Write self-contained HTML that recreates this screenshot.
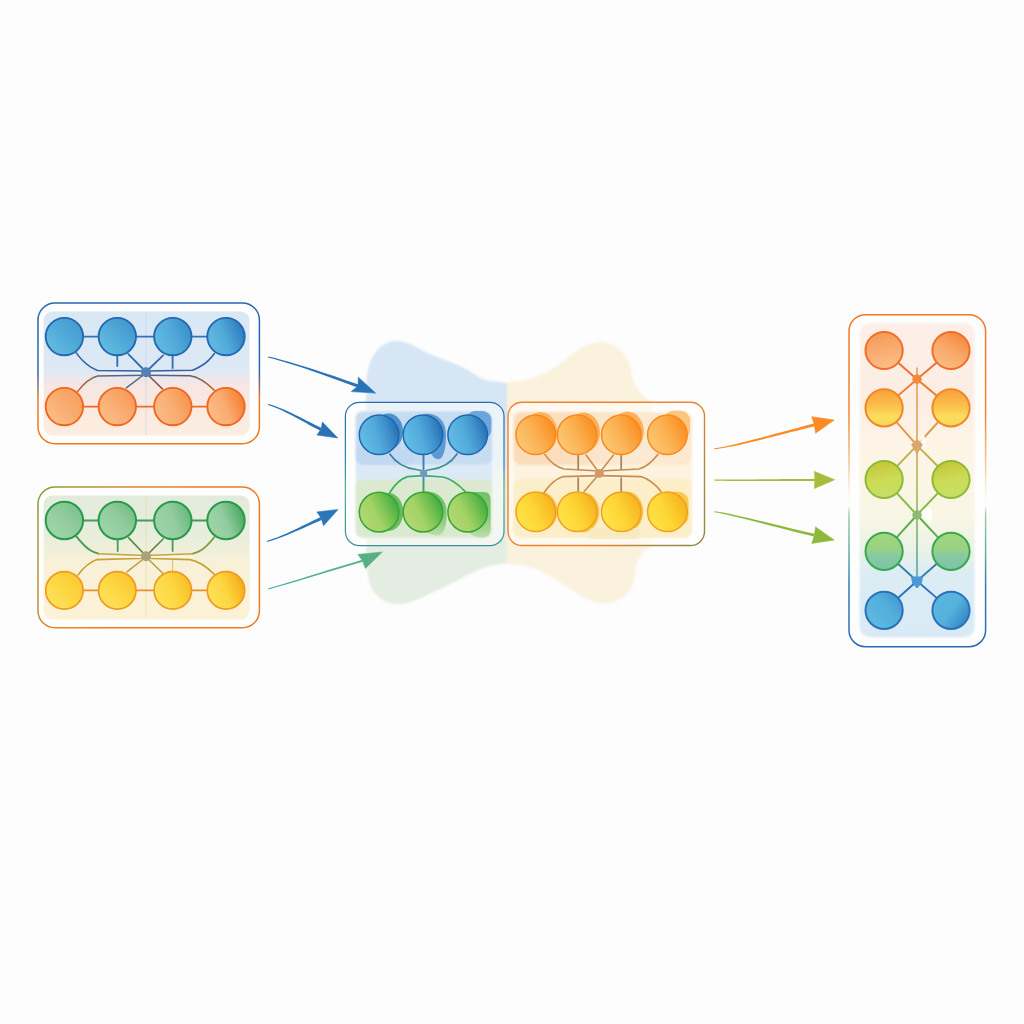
<!DOCTYPE html>
<html><head><meta charset="utf-8"><title>Diagram</title>
<style>html,body{margin:0;padding:0;background:#fdfdfd;font-family:"Liberation Sans",sans-serif;}svg{display:block}</style>
</head><body>
<svg width="1024" height="1024" viewBox="0 0 1024 1024">
<defs><linearGradient id="gBlue" x1="0.1" y1="0.9" x2="0.95" y2="0.15"><stop offset="0" stop-color="#62bde0"/><stop offset="0.55" stop-color="#4ea9d8"/><stop offset="1" stop-color="#2f7fc0"/></linearGradient><linearGradient id="gOr" x1="0.1" y1="0.9" x2="0.95" y2="0.15"><stop offset="0" stop-color="#fbbd85"/><stop offset="0.55" stop-color="#f9a866"/><stop offset="1" stop-color="#f68535"/></linearGradient><linearGradient id="gGrn" x1="0.1" y1="0.9" x2="0.95" y2="0.15"><stop offset="0" stop-color="#9fd6a6"/><stop offset="0.55" stop-color="#8fcb9b"/><stop offset="1" stop-color="#4fa964"/></linearGradient><linearGradient id="gYel" x1="0.1" y1="0.9" x2="0.95" y2="0.15"><stop offset="0" stop-color="#fee25a"/><stop offset="0.55" stop-color="#fdd53f"/><stop offset="1" stop-color="#f5ae1c"/></linearGradient><linearGradient id="gBlue0" x1="0.15" y1="0.9" x2="0.9" y2="0.2"><stop offset="0" stop-color="#62bde0"/><stop offset="0.55" stop-color="#50a9d8"/><stop offset="1" stop-color="#469dd1"/></linearGradient><linearGradient id="gBlue1" x1="0.15" y1="0.9" x2="0.9" y2="0.2"><stop offset="0" stop-color="#62bde0"/><stop offset="0.55" stop-color="#50a9d8"/><stop offset="1" stop-color="#4398ce"/></linearGradient><linearGradient id="gBlue2" x1="0.0" y1="0.75" x2="1.0" y2="0.35"><stop offset="0" stop-color="#62bde0"/><stop offset="0.55" stop-color="#50a9d8"/><stop offset="1" stop-color="#3b8ec9"/></linearGradient><linearGradient id="gBlue3" x1="0.0" y1="0.75" x2="1.0" y2="0.35"><stop offset="0" stop-color="#62bde0"/><stop offset="0.5" stop-color="#50a9d8"/><stop offset="1" stop-color="#2c7abd"/></linearGradient><linearGradient id="gOr0" x1="0.15" y1="0.9" x2="0.9" y2="0.2"><stop offset="0" stop-color="#fbbd88"/><stop offset="0.55" stop-color="#f9ac70"/><stop offset="1" stop-color="#f8a05f"/></linearGradient><linearGradient id="gOr1" x1="0.15" y1="0.9" x2="0.9" y2="0.2"><stop offset="0" stop-color="#fbbd88"/><stop offset="0.55" stop-color="#f9ac70"/><stop offset="1" stop-color="#f89b58"/></linearGradient><linearGradient id="gOr2" x1="0.0" y1="0.75" x2="1.0" y2="0.35"><stop offset="0" stop-color="#fbbd88"/><stop offset="0.55" stop-color="#f9ac70"/><stop offset="1" stop-color="#f7924b"/></linearGradient><linearGradient id="gOr3" x1="0.0" y1="0.75" x2="1.0" y2="0.35"><stop offset="0" stop-color="#fbbd88"/><stop offset="0.5" stop-color="#f9ac70"/><stop offset="1" stop-color="#f57e2f"/></linearGradient><linearGradient id="gGrn0" x1="0.15" y1="0.9" x2="0.9" y2="0.2"><stop offset="0" stop-color="#9fd6a8"/><stop offset="0.55" stop-color="#92cc9e"/><stop offset="1" stop-color="#7ec28e"/></linearGradient><linearGradient id="gGrn1" x1="0.15" y1="0.9" x2="0.9" y2="0.2"><stop offset="0" stop-color="#9fd6a8"/><stop offset="0.55" stop-color="#92cc9e"/><stop offset="1" stop-color="#77be87"/></linearGradient><linearGradient id="gGrn2" x1="0.0" y1="0.75" x2="1.0" y2="0.35"><stop offset="0" stop-color="#9fd6a8"/><stop offset="0.55" stop-color="#92cc9e"/><stop offset="1" stop-color="#67b67a"/></linearGradient><linearGradient id="gGrn3" x1="0.0" y1="0.75" x2="1.0" y2="0.35"><stop offset="0" stop-color="#9fd6a8"/><stop offset="0.5" stop-color="#92cc9e"/><stop offset="1" stop-color="#48a65f"/></linearGradient><linearGradient id="gYel0" x1="0.15" y1="0.9" x2="0.9" y2="0.2"><stop offset="0" stop-color="#fee25c"/><stop offset="0.55" stop-color="#fdd640"/><stop offset="1" stop-color="#fbca36"/></linearGradient><linearGradient id="gYel1" x1="0.15" y1="0.9" x2="0.9" y2="0.2"><stop offset="0" stop-color="#fee25c"/><stop offset="0.55" stop-color="#fdd640"/><stop offset="1" stop-color="#fac631"/></linearGradient><linearGradient id="gYel2" x1="0.0" y1="0.75" x2="1.0" y2="0.35"><stop offset="0" stop-color="#fee25c"/><stop offset="0.55" stop-color="#fdd640"/><stop offset="1" stop-color="#f8bd29"/></linearGradient><linearGradient id="gYel3" x1="0.0" y1="0.75" x2="1.0" y2="0.35"><stop offset="0" stop-color="#fee25c"/><stop offset="0.5" stop-color="#fdd640"/><stop offset="1" stop-color="#f4aa18"/></linearGradient><linearGradient id="cBlue" x1="0.0" y1="0.68" x2="1" y2="0.36"><stop offset="0" stop-color="#63bfe6"/><stop offset="0.45" stop-color="#52aadb"/><stop offset="0.72" stop-color="#3f90cc"/><stop offset="1" stop-color="#236eb2"/></linearGradient><linearGradient id="cGrn" x1="0.0" y1="0.8" x2="1" y2="0.3"><stop offset="0" stop-color="#b6da76"/><stop offset="0.45" stop-color="#a2d264"/><stop offset="0.72" stop-color="#72c050"/><stop offset="1" stop-color="#3daa40"/></linearGradient><linearGradient id="cOr" x1="0.0" y1="0.8" x2="1" y2="0.3"><stop offset="0" stop-color="#fdcb78"/><stop offset="0.5" stop-color="#fbb253"/><stop offset="1" stop-color="#fb8c1e"/></linearGradient><linearGradient id="cYel" x1="0.0" y1="0.8" x2="1" y2="0.3"><stop offset="0" stop-color="#ffe54c"/><stop offset="0.5" stop-color="#fdd634"/><stop offset="1" stop-color="#f6b01e"/></linearGradient><linearGradient id="r1" x1="0.2" y1="1" x2="0.8" y2="0"><stop offset="0" stop-color="#f9c088"/><stop offset="0.5" stop-color="#f8a868"/><stop offset="1" stop-color="#f5853a"/></linearGradient><linearGradient id="r2" x1="0.5" y1="0" x2="0.5" y2="1"><stop offset="0" stop-color="#f9a03c"/><stop offset="0.45" stop-color="#fbc04c"/><stop offset="0.75" stop-color="#fbdf5c"/><stop offset="1" stop-color="#f8d458"/></linearGradient><linearGradient id="r3" x1="0.4" y1="0" x2="0.6" y2="1"><stop offset="0" stop-color="#c6c436"/><stop offset="0.5" stop-color="#ccdc54"/><stop offset="1" stop-color="#c4e068"/></linearGradient><linearGradient id="r4" x1="0.5" y1="0" x2="0.5" y2="1"><stop offset="0" stop-color="#a4d67a"/><stop offset="0.5" stop-color="#96d088"/><stop offset="0.58" stop-color="#88caa0"/><stop offset="1" stop-color="#7cc4a8"/></linearGradient><linearGradient id="r5" x1="0.1" y1="0.9" x2="0.95" y2="0.15"><stop offset="0" stop-color="#60bce2"/><stop offset="0.6" stop-color="#52aedb"/><stop offset="1" stop-color="#4298d0"/></linearGradient><linearGradient id="r5b" x1="0.1" y1="0.2" x2="0.95" y2="0.8"><stop offset="0" stop-color="#5ab6de"/><stop offset="0.5" stop-color="#56b2dc"/><stop offset="1" stop-color="#3284c4"/></linearGradient><linearGradient id="r1a" x1="0.4" y1="0" x2="0.6" y2="1"><stop offset="0" stop-color="#f79a58"/><stop offset="0.5" stop-color="#f9ac70"/><stop offset="1" stop-color="#fbbf8c"/></linearGradient><linearGradient id="fillTL" x1="0" y1="0" x2="0" y2="1"><stop offset="0" stop-color="#d8e8f5"/><stop offset="0.47" stop-color="#dde9f5"/><stop offset="0.6" stop-color="#f7e6e2"/><stop offset="1" stop-color="#fdeee0"/></linearGradient><linearGradient id="fillBL" x1="0" y1="0" x2="0" y2="1"><stop offset="0" stop-color="#e2ebdc"/><stop offset="0.35" stop-color="#e9eedc"/><stop offset="0.55" stop-color="#f8f1d8"/><stop offset="1" stop-color="#fcf2d6"/></linearGradient><linearGradient id="fillR" x1="0" y1="0" x2="0" y2="1"><stop offset="0" stop-color="#fdefe7"/><stop offset="0.25" stop-color="#fdeee4"/><stop offset="0.4" stop-color="#fdf5e6"/><stop offset="0.62" stop-color="#f8f6e4"/><stop offset="0.72" stop-color="#eaf2e6"/><stop offset="0.8" stop-color="#dcecf5"/><stop offset="1" stop-color="#d9eaf6"/></linearGradient><linearGradient id="oTL" x1="0" y1="303" x2="0" y2="444" gradientUnits="userSpaceOnUse"><stop offset="0" stop-color="#2567b0"/><stop offset="0.5" stop-color="#2a69ac"/><stop offset="0.6" stop-color="#a06a50"/><stop offset="0.68" stop-color="#e77a2c"/><stop offset="1" stop-color="#ea7a22"/></linearGradient><linearGradient id="oBL" x1="38" y1="487" x2="150" y2="560" gradientUnits="userSpaceOnUse"><stop offset="0" stop-color="#7fa038"/><stop offset="0.35" stop-color="#b89438"/><stop offset="0.8" stop-color="#ec8226"/><stop offset="1" stop-color="#ee7a22"/></linearGradient><linearGradient id="oCL" x1="0" y1="402" x2="0" y2="546" gradientUnits="userSpaceOnUse"><stop offset="0" stop-color="#2a6cae"/><stop offset="0.45" stop-color="#3a86b4"/><stop offset="0.6" stop-color="#58b094"/><stop offset="1" stop-color="#3f8f96"/></linearGradient><linearGradient id="oCR" x1="508" y1="402" x2="705" y2="546" gradientUnits="userSpaceOnUse"><stop offset="0" stop-color="#f5802a"/><stop offset="0.6" stop-color="#f3822a"/><stop offset="0.8" stop-color="#a88c40"/><stop offset="1" stop-color="#8c8a44"/></linearGradient><linearGradient id="oR" x1="0" y1="314" x2="0" y2="647" gradientUnits="userSpaceOnUse"><stop offset="0" stop-color="#f4762a"/><stop offset="0.3" stop-color="#f4842e"/><stop offset="0.45" stop-color="#f3c890"/><stop offset="0.54" stop-color="#fbf6ea"/><stop offset="0.575" stop-color="#fdfdf8"/><stop offset="0.6" stop-color="#9ed0a4"/><stop offset="0.72" stop-color="#5cae9c"/><stop offset="0.82" stop-color="#2f78b4"/><stop offset="1" stop-color="#2a6db4"/></linearGradient><linearGradient id="lnTLlow" x1="78" y1="0" x2="146" y2="0" gradientUnits="userSpaceOnUse"><stop offset="0" stop-color="#b86a30"/><stop offset="0.35" stop-color="#6a6070"/><stop offset="1" stop-color="#4a6c98"/></linearGradient><linearGradient id="lnTLlowR" x1="214" y1="0" x2="146" y2="0" gradientUnits="userSpaceOnUse"><stop offset="0" stop-color="#b86a30"/><stop offset="0.35" stop-color="#6a5a60"/><stop offset="1" stop-color="#4a6c98"/></linearGradient><linearGradient id="lnCLup" x1="0" y1="454" x2="0" y2="472" gradientUnits="userSpaceOnUse"><stop offset="0" stop-color="#3a78b0"/><stop offset="1" stop-color="#3c9c78"/></linearGradient><linearGradient id="lnCLv" x1="0" y1="454" x2="0" y2="492" gradientUnits="userSpaceOnUse"><stop offset="0" stop-color="#3a78b0"/><stop offset="0.5" stop-color="#4a88a8"/><stop offset="1" stop-color="#3aa858"/></linearGradient><linearGradient id="lnRv" x1="0" y1="370" x2="0" y2="580" gradientUnits="userSpaceOnUse"><stop offset="0" stop-color="#e89a48"/><stop offset="0.35" stop-color="#d4a04c"/><stop offset="0.55" stop-color="#a8b050"/><stop offset="0.75" stop-color="#70b468"/><stop offset="1" stop-color="#48a0a8"/></linearGradient><linearGradient id="arr4" x1="268" y1="0" x2="382" y2="0" gradientUnits="userSpaceOnUse"><stop offset="0" stop-color="#3aa4a8"/><stop offset="0.6" stop-color="#52b488"/><stop offset="1" stop-color="#5aae84"/></linearGradient><linearGradient id="bandOr" x1="0" y1="0" x2="1" y2="0"><stop offset="0" stop-color="#fbdcb8"/><stop offset="0.3" stop-color="#fbdfc0"/><stop offset="0.6" stop-color="#fce9d2"/><stop offset="1" stop-color="#fde9d0"/></linearGradient><linearGradient id="shG" x1="0" y1="0" x2="0" y2="1"><stop offset="0" stop-color="#5cb850"/><stop offset="0.55" stop-color="#74c060"/><stop offset="1" stop-color="#b6dca2"/></linearGradient><filter id="b1" x="-10%" y="-10%" width="120%" height="120%"><feGaussianBlur stdDeviation="0.8"/></filter><filter id="b2" x="-10%" y="-10%" width="120%" height="120%"><feGaussianBlur stdDeviation="1.6"/></filter><filter id="b05" x="-10%" y="-10%" width="120%" height="120%"><feGaussianBlur stdDeviation="0.45"/></filter></defs>
<rect width="1024" height="1024" fill="#fdfdfd"/>
<g filter="url(#b1)">
<path d="M503 383 C518 381 528 380 536 377 C550 372 560 364 570 356 C580 348 590 341 602 342 C616 343 626 352 630 366 C633 378 634 386 640 392 C644 397 648 400 653 402.4 L653 546 C647 548 642 553 638 560 C634 568 636 580 630 590 C624 600 612 604 601 603 C588 602 578 594 566 586 C552 577 538 568 522 565 C514 564 508 564 503 564 Z" fill="#fbf2de"/>
<path d="M366 394 C366 380 367 368 372 358 C378 346 388 340 398 341 C410 342 420 350 432 355 C446 361 458 364 468 370 C476 375 482 380 490 381 C496 382 502 382 507 383 L507 470 L366 470 Z" fill="#d6e6f4"/>
<path d="M366 470 L507 470 L507 563 C498 564 488 566 478 570 C464 576 452 584 438 590 C424 596 412 604 398 604 C384 604 374 596 370 584 C367 574 366 562 366 548 Z" fill="#e4ede2"/>
</g>
<rect x="38" y="303" width="221.4" height="140.8" rx="17" ry="17" fill="#fefefe" stroke="url(#oTL)" stroke-width="1.5"/>
<rect x="43.6" y="311.4" width="206" height="124.2" rx="9" ry="9" fill="url(#fillTL)" filter="url(#b05)"/>
<line x1="146" y1="312" x2="146" y2="435" stroke="#c9d6e6" stroke-width="0.9" opacity="0.8"/>
<path d="M64.4 336.6 H226.0" fill="none" stroke="#2f74b8" stroke-width="1.7" stroke-linecap="round" stroke-linejoin="round" />
<path d="M64.4 406.6 H226.0" fill="none" stroke="#f06c24" stroke-width="1.7" stroke-linecap="round" stroke-linejoin="round" />
<path d="M76.3 352.9 C81 359.6 86 364 90 366.6 C93 368.4 95.4 369.6 97.5 370.5 L146 371" fill="none" stroke="#2f62a8" stroke-width="1.6" stroke-linecap="round" stroke-linejoin="round" />
<path d="M214.4 353.5 C210 359.6 205.6 363.6 201 366 C197.6 368 195 369.4 192.5 370.3 L146 371" fill="none" stroke="#2f62a8" stroke-width="1.6" stroke-linecap="round" stroke-linejoin="round" />
<path d="M117.3 356 V366" fill="none" stroke="#2f6db2" stroke-width="1.8" stroke-linecap="round" stroke-linejoin="round" />
<path d="M172.6 356 V368" fill="none" stroke="#2f6db2" stroke-width="1.8" stroke-linecap="round" stroke-linejoin="round" />
<path d="M128.1 353.8 L146 372" fill="none" stroke="#2f6db2" stroke-width="1.8" stroke-linecap="round" stroke-linejoin="round" />
<path d="M163.1 355.4 L146 372" fill="none" stroke="#2f6db2" stroke-width="1.8" stroke-linecap="round" stroke-linejoin="round" />
<path d="M77.5 391.6 C84 383 90 378 97.5 376 L146 375.2" fill="none" stroke="url(#lnTLlow)" stroke-width="1.5" stroke-linecap="round" stroke-linejoin="round" />
<path d="M214.4 390.4 C206 382 198 377 190 375.8 L146 375.2" fill="none" stroke="url(#lnTLlowR)" stroke-width="1.5" stroke-linecap="round" stroke-linejoin="round" />
<path d="M126.3 387.9 L146 373" fill="none" stroke="#5a6a78" stroke-width="1.5" stroke-linecap="round" stroke-linejoin="round" />
<path d="M162.5 389 L146 373" fill="none" stroke="#7a5450" stroke-width="1.6" stroke-linecap="round" stroke-linejoin="round" />
<path d="M99 373.2 H193" stroke="#f2f4fa" stroke-width="1.6" opacity="0.8"/>
<circle cx="146" cy="372.3" r="5" fill="#5480b8"/>
<circle cx="64.4" cy="336.6" r="18.7" fill="url(#gBlue0)" stroke="#2467b2" stroke-width="1.9"/>
<circle cx="64.4" cy="406.6" r="18.7" fill="url(#gOr0)" stroke="#f2661f" stroke-width="1.9"/>
<circle cx="117.3" cy="336.6" r="18.7" fill="url(#gBlue1)" stroke="#2467b2" stroke-width="1.9"/>
<circle cx="117.3" cy="406.6" r="18.7" fill="url(#gOr1)" stroke="#f2661f" stroke-width="1.9"/>
<circle cx="172.8" cy="336.6" r="18.7" fill="url(#gBlue2)" stroke="#2467b2" stroke-width="1.9"/>
<circle cx="172.8" cy="406.6" r="18.7" fill="url(#gOr2)" stroke="#f2661f" stroke-width="1.9"/>
<circle cx="226.0" cy="336.6" r="18.7" fill="url(#gBlue3)" stroke="#2467b2" stroke-width="1.9"/>
<circle cx="226.0" cy="406.6" r="18.7" fill="url(#gOr3)" stroke="#f2661f" stroke-width="1.9"/>
<rect x="38" y="487" width="221.4" height="140.8" rx="17" ry="17" fill="#fefefe" stroke="url(#oBL)" stroke-width="1.5"/>
<rect x="43.6" y="495.4" width="206" height="124.2" rx="9" ry="9" fill="url(#fillBL)" filter="url(#b05)"/>
<line x1="146" y1="496" x2="146" y2="618" stroke="#e8dfb0" stroke-width="0.9" opacity="0.9"/>
<path d="M64.4 520.5 H226.0" fill="none" stroke="#3f9e5c" stroke-width="1.8" stroke-linecap="round" stroke-linejoin="round" />
<path d="M64.4 590.4 H226.0" fill="none" stroke="#ea902c" stroke-width="1.7" stroke-linecap="round" stroke-linejoin="round" />
<path d="M76.5 536.6 C82 543.4 87 548.6 91.6 551 C94.6 552.6 96.6 553 98.5 553.7" fill="none" stroke="#4a9a50" stroke-width="1.9" stroke-linecap="round" stroke-linejoin="round" />
<path d="M214.4 537 C209 544 204 549 199 551.4 C196 552.8 194.4 553.2 192.5 553.7" fill="none" stroke="#7aa040" stroke-width="1.9" stroke-linecap="round" stroke-linejoin="round" />
<path d="M98.5 553.8 L146 555.4 L192.5 553.8" fill="none" stroke="#c8a24a" stroke-width="1.5" stroke-linecap="round" stroke-linejoin="round" />
<path d="M117.7 540 V551" fill="none" stroke="#4a9a50" stroke-width="1.8" stroke-linecap="round" stroke-linejoin="round" />
<path d="M172.6 540 V551" fill="none" stroke="#4a9a50" stroke-width="1.8" stroke-linecap="round" stroke-linejoin="round" />
<path d="M128.7 537.8 L146 556" fill="none" stroke="#5a8a48" stroke-width="1.7" stroke-linecap="round" stroke-linejoin="round" />
<path d="M163.1 539 L146 556" fill="none" stroke="#5a8a48" stroke-width="1.7" stroke-linecap="round" stroke-linejoin="round" />
<path d="M78 575 C84 567 90 562 97 559.6 L146 558.2" fill="none" stroke="#c9a236" stroke-width="1.6" stroke-linecap="round" stroke-linejoin="round" />
<path d="M214.4 574.4 C206 566 198 561 190 559.6 L146 558.2" fill="none" stroke="#c9a236" stroke-width="1.6" stroke-linecap="round" stroke-linejoin="round" />
<path d="M126.9 571.9 L146 557" fill="none" stroke="#b8a040" stroke-width="1.5" stroke-linecap="round" stroke-linejoin="round" />
<path d="M172.6 560 V571" fill="none" stroke="#d8c070" stroke-width="1.0" stroke-linecap="round" stroke-linejoin="round" />
<path d="M162.5 573 L146 557" fill="none" stroke="#b8a040" stroke-width="1.5" stroke-linecap="round" stroke-linejoin="round" />
<path d="M99 557 H193" stroke="#fffbe8" stroke-width="1.6" opacity="0.8"/>
<circle cx="146" cy="556.3" r="5" fill="#a8a478"/>
<circle cx="64.4" cy="520.5" r="18.7" fill="url(#gGrn0)" stroke="#279a4c" stroke-width="2.0"/>
<circle cx="64.4" cy="590.4" r="18.7" fill="url(#gYel0)" stroke="#f09a1e" stroke-width="1.7"/>
<circle cx="117.3" cy="520.5" r="18.7" fill="url(#gGrn1)" stroke="#279a4c" stroke-width="2.0"/>
<circle cx="117.3" cy="590.4" r="18.7" fill="url(#gYel1)" stroke="#f09a1e" stroke-width="1.7"/>
<circle cx="172.8" cy="520.5" r="18.7" fill="url(#gGrn2)" stroke="#279a4c" stroke-width="2.0"/>
<circle cx="172.8" cy="590.4" r="18.7" fill="url(#gYel2)" stroke="#f09a1e" stroke-width="1.7"/>
<circle cx="226.0" cy="520.5" r="18.7" fill="url(#gGrn3)" stroke="#279a4c" stroke-width="2.0"/>
<circle cx="226.0" cy="590.4" r="18.7" fill="url(#gYel3)" stroke="#f09a1e" stroke-width="1.7"/>
<rect x="345.4" y="402.3" width="158.6" height="143.3" rx="14" ry="14" fill="#ffffff" fill-opacity="0.55" stroke="url(#oCL)" stroke-width="1.25"/>
<g filter="url(#b1)">
<rect x="355.6" y="411.5" width="136.4" height="126" rx="7" fill="#dceaf7"/>
<rect x="355.6" y="411.5" width="136.4" height="53" rx="7" fill="#c5dcf1"/>
<rect x="355.6" y="479.5" width="136.4" height="58" rx="7" fill="#dbe9cf"/>
</g>
<g filter="url(#b05)">
<rect x="356" y="447" width="58" height="18" rx="7" fill="#b9d3ed" opacity="0.4"/>
<ellipse cx="388.6" cy="431.6" rx="14.4" ry="18" fill="#3d88c8" opacity="0.9"/>
<path d="M424 414 C436 412 446 420 446 434 C446 444 445 452 442 457 C439 461 434 459 432 455 C428 448 424 440 424 430 Z" fill="#4a8ecc" opacity="0.85"/>
<rect x="466" y="411" width="25.4" height="28" rx="9" fill="#5c9cd8" opacity="0.85"/>
<ellipse cx="388.6" cy="512" rx="14.6" ry="19" fill="#5cb850" opacity="0.9"/>
<path d="M424 491.4 C438 490.6 446.6 500 446.6 512 C446.6 522 446 530 441 534.6 C436 537 428 534 424 530 Z" fill="url(#shG)" opacity="0.85"/>
<path d="M468 492 L484 492 C488.6 492 490.6 495 490.6 500 L490.6 526 C491.6 534 488 537.6 482 537.6 C474 537.6 470 534 468 530 Z" fill="url(#shG)" opacity="0.8"/>
</g>
<path d="M389.8 454 C396 463 404 468 416 469.5 L423.5 471" fill="none" stroke="url(#lnCLup)" stroke-width="1.6" stroke-linecap="round" stroke-linejoin="round" />
<path d="M457 454 C451 463 443 468 431 469.5 L423.5 471" fill="none" stroke="url(#lnCLup)" stroke-width="1.6" stroke-linecap="round" stroke-linejoin="round" />
<path d="M423.5 455 V492" fill="none" stroke="url(#lnCLv)" stroke-width="1.9" stroke-linecap="round" stroke-linejoin="round" />
<path d="M389.8 492.5 C395 484 400 479 407.5 476.6 L423.5 475.6" fill="none" stroke="#3fae54" stroke-width="1.7" stroke-linecap="round" stroke-linejoin="round" />
<path d="M465 491.4 C458.6 484.6 451 478.8 443 477 L423.5 475.6" fill="none" stroke="#3fae54" stroke-width="1.7" stroke-linecap="round" stroke-linejoin="round" />
<rect x="420.1" y="470" width="7" height="7" rx="0.8" fill="#6f9ac2"/>
<circle cx="379.1" cy="434.7" r="19.8" fill="url(#cBlue)" stroke="#1f66b0" stroke-width="1.5"/>
<circle cx="379.1" cy="512.1" r="19.8" fill="url(#cGrn)" stroke="#35a637" stroke-width="1.5"/>
<circle cx="423.0" cy="434.7" r="19.8" fill="url(#cBlue)" stroke="#1f66b0" stroke-width="1.5"/>
<circle cx="423.0" cy="512.1" r="19.8" fill="url(#cGrn)" stroke="#35a637" stroke-width="1.5"/>
<circle cx="467.7" cy="434.7" r="19.8" fill="url(#cBlue)" stroke="#1f66b0" stroke-width="1.5"/>
<circle cx="467.7" cy="512.1" r="19.8" fill="url(#cGrn)" stroke="#35a637" stroke-width="1.5"/>
<rect x="508" y="402.2" width="196.5" height="143.3" rx="14" ry="14" fill="#ffffff" fill-opacity="0.55" stroke="url(#oCR)" stroke-width="1.4"/>
<g filter="url(#b1)">
<rect x="513.5" y="412" width="178.5" height="126" rx="8" fill="#fdf3de"/>
<rect x="513.5" y="412" width="178.5" height="53" rx="8" fill="url(#bandOr)"/>
<rect x="513.5" y="479" width="178.5" height="59" rx="8" fill="#fbeec8"/>
</g>
<g filter="url(#b05)">
<ellipse cx="540.6" cy="432.6" rx="16.6" ry="20.6" fill="#fba640" opacity="0.75"/>
<ellipse cx="583.6" cy="432.4" rx="16.4" ry="20" fill="#fba23c" opacity="0.8"/>
<ellipse cx="627.6" cy="431.6" rx="16.2" ry="20" fill="#fba23c" opacity="0.8"/>
<rect x="664" y="410.6" width="26" height="30" rx="10" fill="#fbbc68" opacity="0.8"/>
<ellipse cx="541" cy="511.4" rx="16.4" ry="19.4" fill="#f8b828" opacity="0.8"/>
<ellipse cx="583" cy="512.2" rx="16.4" ry="20" fill="#f8b828" opacity="0.8"/>
<ellipse cx="627" cy="511.6" rx="16.2" ry="20" fill="#f8b828" opacity="0.8"/>
<rect x="662" y="491.8" width="26.6" height="34" rx="10" fill="#fac030" opacity="0.8"/>
<rect x="588" y="528" width="52" height="11" rx="5" fill="#f6e8bc" opacity="0.7"/>
</g>
<path d="M544.8 454.4 C550 462 556 467 564 469 L599.3 471" fill="none" stroke="#c88c4c" stroke-width="1.6" stroke-linecap="round" stroke-linejoin="round" />
<path d="M657.9 454.4 C652 462 646 467 639 469 L599.3 471" fill="none" stroke="#c88c4c" stroke-width="1.6" stroke-linecap="round" stroke-linejoin="round" />
<path d="M544.1 492.5 C550 484 556 479 563 476.6 L599.3 475.6" fill="none" stroke="#c88c4c" stroke-width="1.6" stroke-linecap="round" stroke-linejoin="round" />
<path d="M661 491.5 C655 484 649 479 641 476.6 L599.3 475.6" fill="none" stroke="#c88c4c" stroke-width="1.6" stroke-linecap="round" stroke-linejoin="round" />
<path d="M578.2 455 V469 M578.2 478 V491" fill="none" stroke="#a8805a" stroke-width="1.7" stroke-linecap="round" stroke-linejoin="round" />
<path d="M621.2 455 V469 M621.2 478 V491" fill="none" stroke="#a8805a" stroke-width="1.7" stroke-linecap="round" stroke-linejoin="round" />
<path d="M586 455 L599.3 473 M613.5 455 L599.3 473" fill="none" stroke="#c88c4c" stroke-width="1.5" stroke-linecap="round" stroke-linejoin="round" />
<path d="M584.1 491.5 L599.3 474" fill="none" stroke="#c88c4c" stroke-width="1.5" stroke-linecap="round" stroke-linejoin="round" />
<circle cx="599.3" cy="473.4" r="4.5" fill="#d29868"/>
<circle cx="535.8" cy="434.7" r="19.8" fill="url(#cOr)" stroke="#f88a1e" stroke-width="1.5"/>
<circle cx="535.8" cy="511.8" r="19.8" fill="url(#cYel)" stroke="#f0a01e" stroke-width="1.5"/>
<circle cx="577.2" cy="434.7" r="19.8" fill="url(#cOr)" stroke="#f88a1e" stroke-width="1.5"/>
<circle cx="577.2" cy="511.8" r="19.8" fill="url(#cYel)" stroke="#f0a01e" stroke-width="1.5"/>
<circle cx="621.3" cy="434.7" r="19.8" fill="url(#cOr)" stroke="#f88a1e" stroke-width="1.5"/>
<circle cx="621.3" cy="511.8" r="19.8" fill="url(#cYel)" stroke="#f0a01e" stroke-width="1.5"/>
<circle cx="667.4" cy="434.7" r="19.8" fill="url(#cOr)" stroke="#f88a1e" stroke-width="1.5"/>
<circle cx="667.4" cy="511.8" r="19.8" fill="url(#cYel)" stroke="#f0a01e" stroke-width="1.5"/>
<rect x="849" y="314.7" width="136.6" height="332" rx="16.5" ry="16.5" fill="#fefefe" stroke="url(#oR)" stroke-width="1.5"/>
<rect x="859.6" y="323.3" width="115" height="314" rx="10" fill="url(#fillR)" filter="url(#b1)"/>
<path d="M917 368 V581" fill="none" stroke="url(#lnRv)" stroke-width="1.5" stroke-linecap="round" stroke-linejoin="round" />
<path d="M898.4 363.0 L917 379.2" fill="none" stroke="#f0702c" stroke-width="1.9" stroke-linecap="round" stroke-linejoin="round" />
<path d="M936.5 362.8 L917 379.2" fill="none" stroke="#f0702c" stroke-width="1.9" stroke-linecap="round" stroke-linejoin="round" />
<path d="M898.4 395.4 L917 379.2" fill="none" stroke="#f0782c" stroke-width="1.9" stroke-linecap="round" stroke-linejoin="round" />
<path d="M936.5 395.6 L917 379.2" fill="none" stroke="#f0782c" stroke-width="1.9" stroke-linecap="round" stroke-linejoin="round" />
<path d="M896.6 422.2 L917 445.4" fill="none" stroke="#e09a48" stroke-width="1.9" stroke-linecap="round" stroke-linejoin="round" />
<path d="M938.2 422.0 L917 445.4" fill="none" stroke="#e09a48" stroke-width="1.9" stroke-linecap="round" stroke-linejoin="round" />
<path d="M897.3 465.8 L917 445.4" fill="none" stroke="#bcb048" stroke-width="1.9" stroke-linecap="round" stroke-linejoin="round" />
<path d="M937.6 466.0 L917 445.4" fill="none" stroke="#bcb048" stroke-width="1.9" stroke-linecap="round" stroke-linejoin="round" />
<path d="M897.0 493.4 L917 515.0" fill="none" stroke="#88b848" stroke-width="1.9" stroke-linecap="round" stroke-linejoin="round" />
<path d="M937.9 493.2 L917 515.0" fill="none" stroke="#88b848" stroke-width="1.9" stroke-linecap="round" stroke-linejoin="round" />
<path d="M896.9 537.2 L917 515.0" fill="none" stroke="#5aac48" stroke-width="1.9" stroke-linecap="round" stroke-linejoin="round" />
<path d="M938.0 537.4 L917 515.0" fill="none" stroke="#5aac48" stroke-width="1.9" stroke-linecap="round" stroke-linejoin="round" />
<path d="M898.2 564.0 L917 581.0" fill="none" stroke="#2f80a8" stroke-width="1.9" stroke-linecap="round" stroke-linejoin="round" />
<path d="M936.7 563.8 L917 581.0" fill="none" stroke="#2f80a8" stroke-width="1.9" stroke-linecap="round" stroke-linejoin="round" />
<path d="M898.3 597.7 L917 581.0" fill="none" stroke="#2a74b8" stroke-width="1.9" stroke-linecap="round" stroke-linejoin="round" />
<path d="M936.6 597.9 L917 581.0" fill="none" stroke="#2a74b8" stroke-width="1.9" stroke-linecap="round" stroke-linejoin="round" />
<path d="M920.4 437 C924.6 433 926.4 438 925.8 446 C924 450 921.6 448 920.2 444 Z" fill="#fffdf6" opacity="0.85"/>
<path d="M922 511 C926 506 932 506 932.4 513 C932.6 518 931 522 929 523 C927 520 924 518 922 517 Z" fill="#fffffa" opacity="0.85"/>
<circle cx="917" cy="379.2" r="4.7" fill="#f28a3c"/>
<path d="M917 439.6 L922.4 444.6 L917 453.6 L911.6 444.6 Z" fill="#dca66c" stroke="#dca66c" stroke-width="1" stroke-linejoin="round"/>
<circle cx="917" cy="515" r="4.7" fill="#8cba72"/>
<path d="M911.6 577 L922.4 577 L921.4 583 L917 588 L912.6 583 Z" fill="#4a98d6" stroke="#4a98d6" stroke-width="1" stroke-linejoin="round"/>
<circle cx="884.1" cy="350.5" r="18.6" fill="url(#r1a)" stroke="#f26e28" stroke-width="2.0"/>
<circle cx="951.0" cy="350.5" r="18.6" fill="url(#r1)" stroke="#f26e28" stroke-width="2.0"/>
<circle cx="884.1" cy="407.9" r="18.6" fill="url(#r2)" stroke="#f08826" stroke-width="2.0"/>
<circle cx="951.0" cy="407.9" r="18.6" fill="url(#r2)" stroke="#f08826" stroke-width="2.0"/>
<circle cx="884.1" cy="479.5" r="18.6" fill="url(#r3)" stroke="#8cba38" stroke-width="2.0"/>
<circle cx="951.0" cy="479.5" r="18.6" fill="url(#r3)" stroke="#8cba38" stroke-width="2.0"/>
<circle cx="884.1" cy="551.3" r="18.6" fill="url(#r4)" stroke="#38a84e" stroke-width="2.0"/>
<circle cx="951.0" cy="551.3" r="18.6" fill="url(#r4)" stroke="#38a84e" stroke-width="2.0"/>
<circle cx="884.1" cy="610.3" r="18.6" fill="url(#r5)" stroke="#2a72b8" stroke-width="2.0"/>
<circle cx="951.0" cy="610.3" r="18.6" fill="url(#r5b)" stroke="#2a72b8" stroke-width="2.0"/>
<path d="M268.1 357.4 L274.8 359.2 L281.5 361.2 L288.2 363.2 L294.8 365.2 L301.3 367.3 L307.8 369.5 L314.2 371.7 L320.6 373.9 L326.9 376.2 L333.1 378.4 L339.3 380.7 L345.4 382.9 L351.5 385.2 L357.5 387.4 L358.5 384.6 L352.5 382.5 L346.3 380.4 L340.2 378.3 L333.9 376.1 L327.6 374.0 L321.3 371.9 L314.8 369.8 L308.4 367.7 L301.8 365.7 L295.2 363.7 L288.6 361.8 L281.9 359.9 L275.1 358.1 L268.3 356.4Z" fill="#2a72b8"/>
<path d="M375.6 393.1 L358.3 377.2 L358 386 L351.3 391.6 Z" fill="#2a72b8" stroke="#2a72b8" stroke-width="0.6" stroke-linejoin="round"/>
<path d="M268.0 404.9 L271.8 406.2 L275.6 407.7 L279.4 409.3 L283.2 411.1 L286.9 412.9 L290.7 414.8 L294.4 416.7 L298.2 418.7 L301.9 420.8 L305.6 422.8 L309.3 424.9 L313.0 426.9 L316.7 428.8 L320.3 430.7 L321.7 428.1 L318.0 426.3 L314.3 424.5 L310.5 422.6 L306.8 420.7 L303.0 418.8 L299.2 416.8 L295.4 415.0 L291.5 413.1 L287.7 411.3 L283.8 409.6 L279.9 408.0 L276.1 406.5 L272.2 405.1 L268.4 403.9Z" fill="#2a72b8"/>
<path d="M337.8 438 L322.4 422 L321 429.4 L316.9 435 Z" fill="#2a72b8" stroke="#2a72b8" stroke-width="0.6" stroke-linejoin="round"/>
<path d="M267.0 541.9 L271.1 540.7 L275.2 539.4 L279.3 538.0 L283.3 536.5 L287.3 535.0 L291.3 533.3 L295.2 531.6 L299.1 529.9 L303.0 528.2 L306.8 526.4 L310.7 524.7 L314.5 523.0 L318.3 521.4 L322.0 519.8 L320.8 517.0 L317.1 518.8 L313.3 520.6 L309.6 522.4 L305.8 524.2 L302.0 526.1 L298.2 528.0 L294.4 529.8 L290.5 531.6 L286.6 533.4 L282.7 535.1 L278.8 536.7 L274.8 538.2 L270.8 539.6 L266.8 540.9Z" fill="#2a76b8"/>
<path d="M338 509.5 L316.9 511.9 L321.4 518.4 L323.5 525.8 Z" fill="#2a76b8" stroke="#2a76b8" stroke-width="0.6" stroke-linejoin="round"/>
<path d="M268.3 589.5 L275.1 587.6 L281.9 585.6 L288.6 583.7 L295.3 581.7 L302.0 579.7 L308.6 577.7 L315.3 575.7 L322.0 573.7 L328.7 571.7 L335.4 569.7 L342.2 567.7 L349.0 565.7 L355.8 563.7 L362.8 561.8 L362.2 559.8 L355.3 561.9 L348.4 563.9 L341.7 566.0 L334.9 568.0 L328.2 570.1 L321.5 572.2 L314.9 574.3 L308.2 576.3 L301.6 578.4 L294.9 580.5 L288.3 582.5 L281.6 584.5 L274.8 586.5 L268.1 588.5Z" fill="url(#arr4)"/>
<path d="M382.3 552 L357.9 554.4 L362.5 560.8 L365.4 568.4 Z" fill="url(#arr4)" stroke="url(#arr4)" stroke-width="0.6" stroke-linejoin="round"/>
<path d="M714.4 449.2 L718.3 448.8 L722.9 448.1 L728.4 447.1 L734.5 445.9 L741.2 444.4 L748.4 442.7 L756.1 440.9 L764.1 438.9 L772.4 436.8 L780.8 434.7 L789.3 432.5 L797.9 430.4 L806.4 428.2 L814.7 426.2 L814.1 423.4 L805.7 425.6 L797.3 427.9 L788.7 430.2 L780.2 432.5 L771.8 434.7 L763.6 436.9 L755.6 439.0 L748.0 441.0 L740.8 442.8 L734.2 444.4 L728.1 445.8 L722.7 446.9 L718.1 447.7 L714.4 448.3Z" fill="#fd8a22"/>
<path d="M834.1 420 L811.7 416.7 L814.4 424.8 L815.6 433.3 Z" fill="#fd8a22" stroke="#fd8a22" stroke-width="0.6" stroke-linejoin="round"/>
<path d="M714.4 480.8 L722.1 480.8 L729.9 480.9 L737.7 480.9 L745.5 480.9 L753.3 480.9 L761.1 480.9 L768.7 480.9 L776.1 480.9 L783.4 481.0 L790.4 481.0 L797.1 481.0 L803.4 481.0 L809.4 481.0 L815.0 481.0 L815.0 478.8 L809.4 478.9 L803.4 478.9 L797.0 479.0 L790.3 479.0 L783.4 479.1 L776.1 479.2 L768.7 479.2 L761.1 479.3 L753.3 479.4 L745.5 479.4 L737.7 479.5 L729.9 479.5 L722.1 479.6 L714.4 479.6Z" fill="#a9ba3c"/>
<path d="M834.7 479.7 L814.4 471.4 L815 479.9 L814.4 488.4 Z" fill="#a9ba3c" stroke="#a9ba3c" stroke-width="0.6" stroke-linejoin="round"/>
<path d="M714.3 512.2 L718.1 512.8 L722.7 513.7 L728.1 514.9 L734.2 516.4 L740.8 518.0 L748.0 519.8 L755.6 521.7 L763.6 523.8 L771.8 525.9 L780.2 528.0 L788.8 530.2 L797.3 532.4 L805.8 534.5 L814.1 536.6 L814.7 533.8 L806.4 531.9 L797.9 529.9 L789.3 527.9 L780.8 525.8 L772.3 523.8 L764.1 521.8 L756.1 519.9 L748.4 518.1 L741.2 516.4 L734.5 514.9 L728.4 513.6 L723.0 512.5 L718.3 511.7 L714.5 511.2Z" fill="#8cb83c"/>
<path d="M834.1 540 L815.6 526.9 L814.4 535.2 L811.9 543.4 Z" fill="#8cb83c" stroke="#8cb83c" stroke-width="0.6" stroke-linejoin="round"/>
</svg>
</body></html>
